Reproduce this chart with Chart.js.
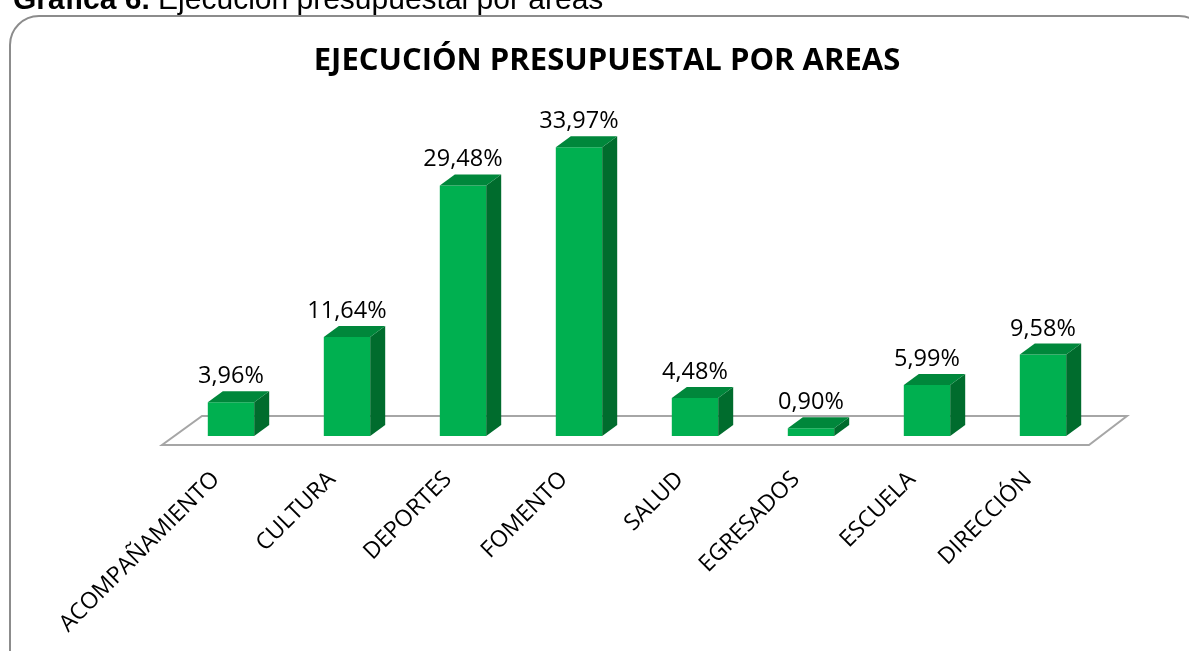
<!DOCTYPE html>
<html lang="es">
<head>
<meta charset="utf-8">
<title>Ejecución presupuestal por áreas</title>
<script src="https://cdn.jsdelivr.net/npm/chart.js@4.4.0/dist/chart.umd.min.js"></script>
<style>
  html, body { margin: 0; padding: 0; background: #fff; overflow: hidden; }
  #wrap { position: relative; width: 1189px; height: 651px; }
  canvas { position: absolute; left: 0; top: 0; }
  #frame {
    position: absolute; left: 9px; top: 15px; width: 1200px; height: 680px;
    border: 2px solid #8c8c8c; border-radius: 30px; box-sizing: border-box;
    pointer-events: none;
  }
  #caption {
    position: absolute; left: 13px; top: -16px; white-space: nowrap; color: #000;
    font-family: "Liberation Sans", Arial, sans-serif; font-size: 30px; line-height: 30px;
  }
</style>
</head>
<body>
<div id="wrap">
  <canvas id="chart" width="1189" height="651"></canvas>
  <div id="frame"></div>
  <div id="caption"><b>Gráfica 6.</b> Ejecución presupuestal por áreas</div>
</div>
<script>
// Data
const areas = ['ACOMPAÑAMIENTO', 'CULTURA', 'DEPORTES', 'FOMENTO', 'SALUD', 'EGRESADOS', 'ESCUELA', 'DIRECCIÓN'];
const percentages = [3.96, 11.64, 29.48, 33.97, 4.48, 0.90, 5.99, 9.58];
const chartTitle = 'EJECUCIÓN PRESUPUESTAL POR AREAS';

// Colours
const FRONT = '#00B050';
const TOP = '#00873B';
const SIDE = '#006C2D';
const FLOOR_LINE = '#a6a6a6';

// bar depth (px)
const DEPTH_X = 15;
const DEPTH_Y = 11;

const fmt = v => v.toFixed(2).replace('.', ',') + '%';

// draws the floor, the 3D faces of the bars, the value labels and the title
const threeD = {
    id: 'threeD',
    beforeDatasetsDraw(chart) {
        const { ctx, chartArea: a } = chart;
        ctx.save();
        ctx.beginPath();
        ctx.moveTo(a.left - 11, a.bottom + 9);
        ctx.lineTo(a.right - 12, a.bottom + 9);
        ctx.lineTo(a.right + 26, a.bottom - 20);
        ctx.lineTo(a.left + 29, a.bottom - 20);
        ctx.closePath();
        ctx.fillStyle = '#fff';
        ctx.fill();
        ctx.strokeStyle = FLOOR_LINE;
        ctx.lineWidth = 2;
        ctx.stroke();
        ctx.restore();
    },
    afterDatasetsDraw(chart) {
        const { ctx } = chart;
        const meta = chart.getDatasetMeta(0);
        ctx.save();
        meta.data.forEach((bar, i) => {
            const { x, y, base, width } = bar.getProps(['x', 'y', 'base', 'width'], true);
            const l = x - width / 2, r = x + width / 2;
            // side
            ctx.beginPath();
            ctx.moveTo(r, y);
            ctx.lineTo(r + DEPTH_X, y - DEPTH_Y);
            ctx.lineTo(r + DEPTH_X, base - DEPTH_Y);
            ctx.lineTo(r, base);
            ctx.closePath();
            ctx.fillStyle = SIDE;
            ctx.fill();
            // top
            ctx.beginPath();
            ctx.moveTo(l, y);
            ctx.lineTo(l + DEPTH_X, y - DEPTH_Y);
            ctx.lineTo(r + DEPTH_X, y - DEPTH_Y);
            ctx.lineTo(r, y);
            ctx.closePath();
            ctx.fillStyle = TOP;
            ctx.fill();
            // value label
            ctx.fillStyle = '#000';
            ctx.font = '23.5px "Open Sans"';
            ctx.textAlign = 'center';
            ctx.textBaseline = 'alphabetic';
            ctx.fillText(fmt(percentages[i]), x, y - 19);
        });
        ctx.restore();
    },
    afterDraw(chart) {
        const { ctx } = chart;
        ctx.save();
        ctx.fillStyle = '#000';
        ctx.font = 'bold 31px "Open Sans"';
        ctx.textAlign = 'center';
        ctx.textBaseline = 'alphabetic';
        ctx.fillText(chartTitle, 607, 70);
        ctx.restore();
    }
};

const ctx = document.getElementById('chart').getContext('2d');
const budgetChart = new Chart(ctx, {
    type: 'bar',
    data: {
        labels: areas,
        datasets: [{
            label: 'Ejecución',
            data: percentages,
            backgroundColor: FRONT,
            borderWidth: 0,
            barPercentage: 0.4,
            categoryPercentage: 1
        }]
    },
    options: {
        responsive: false,
        animation: false,
        layout: { padding: { left: 173, right: 88, top: 96, bottom: 0 } },
        scales: {
            x: {
                grid: { display: false, drawTicks: false },
                border: { display: false },
                ticks: {
                    autoSkip: false,
                    minRotation: 45,
                    maxRotation: 45,
                    padding: 30,
                    labelOffset: -15,
                    color: '#000',
                    font: { family: '"Open Sans"', size: 23 }
                },
                afterFit(scale) { scale.height = 215; }
            },
            y: {
                display: false,
                min: 0,
                max: 40
            }
        },
        plugins: {
            legend: { display: false },
            title: { display: false },
            tooltip: { enabled: false }
        }
    },
    plugins: [threeD]
});
</script>
</body>
</html>
